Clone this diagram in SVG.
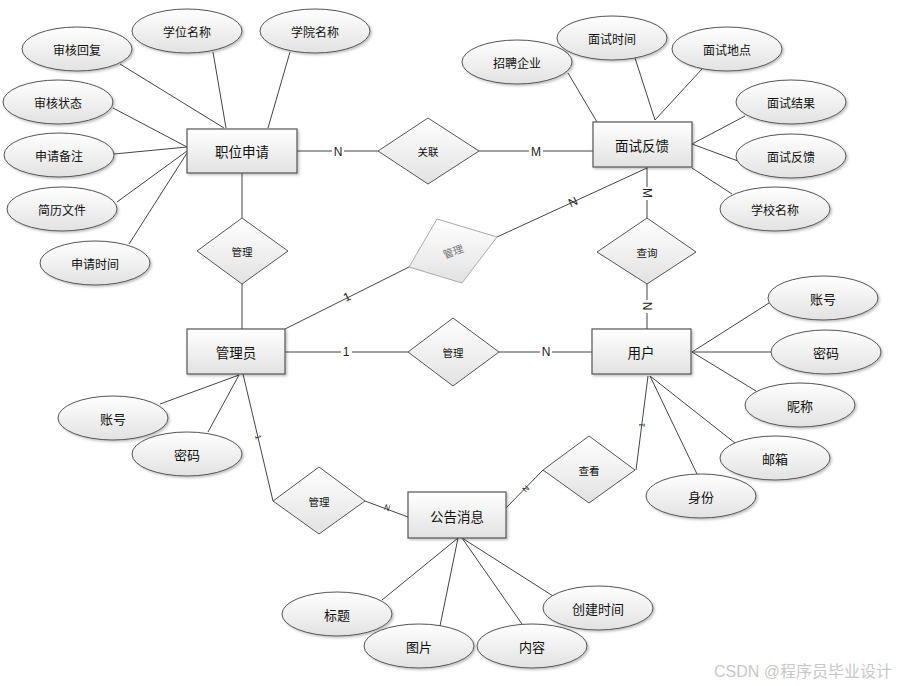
<svg xmlns="http://www.w3.org/2000/svg" width="899" height="686" viewBox="0 0 899 686">
<defs>
<linearGradient id="g" x1="0" y1="0" x2="0" y2="1">
<stop offset="0" stop-color="#ffffff"/>
<stop offset="1" stop-color="#e2e2e2"/>
</linearGradient>
<filter id="sh" x="-10%" y="-10%" width="130%" height="140%">
<feDropShadow dx="1.5" dy="1.5" stdDeviation="1" flood-color="#000" flood-opacity="0.25"/>
</filter>
</defs>
<style>
.ent{fill:url(#g);stroke:#555;stroke-width:1.2;filter:url(#sh)}
.att{fill:url(#g);stroke:#555;stroke-width:1;filter:url(#sh)}
.rel{fill:url(#g);stroke:#555;stroke-width:1}
.rel2{fill:url(#g);stroke:#aaa;stroke-width:1}
.ln{stroke:#444;stroke-width:1;fill:none}
text{font-family:"Noto Sans CJK SC","Microsoft YaHei",sans-serif;fill:#111;text-anchor:middle;dominant-baseline:central}
.te{font-size:13.5px}
.ta{font-size:12px}
.tb{font-size:13px}
.tr{font-size:10.5px}
.card{font-family:"Liberation Sans",Arial,sans-serif;font-size:12px;fill:#222}
.cs{font-family:"Liberation Sans",Arial,sans-serif;font-size:8px;fill:#222}
.wm{font-family:"Liberation Sans","Noto Sans CJK SC",sans-serif;font-size:16px;fill:#c8c8c8;text-anchor:start}
</style>
<rect width="899" height="686" fill="#fff"/>
<g id="connectors">
<line class="ln" x1="120" y1="64" x2="224" y2="128"/>
<line class="ln" x1="213" y1="52" x2="226" y2="128"/>
<line class="ln" x1="290" y1="52" x2="268" y2="128"/>
<line class="ln" x1="113" y1="108" x2="187" y2="147"/>
<line class="ln" x1="114" y1="154" x2="187" y2="147"/>
<line class="ln" x1="117" y1="202" x2="187" y2="151"/>
<line class="ln" x1="129" y1="244" x2="187" y2="153"/>
<line class="ln" x1="297" y1="151" x2="378" y2="151"/>
<line class="ln" x1="479" y1="151" x2="593" y2="151"/>
<line class="ln" x1="242" y1="173" x2="242" y2="218"/>
<line class="ln" x1="242" y1="284" x2="242" y2="329"/>
<line class="ln" x1="568" y1="73" x2="597" y2="122"/>
<line class="ln" x1="635" y1="58" x2="655" y2="120"/>
<line class="ln" x1="702" y1="69" x2="655" y2="120"/>
<line class="ln" x1="745" y1="116" x2="692" y2="144"/>
<line class="ln" x1="738" y1="161" x2="692" y2="144"/>
<line class="ln" x1="732" y1="194" x2="692" y2="168"/>
<line class="ln" x1="647" y1="167" x2="647" y2="218"/>
<line class="ln" x1="497" y1="237" x2="647" y2="168"/>
<line class="ln" x1="285" y1="329" x2="409" y2="267"/>
<line class="ln" x1="285" y1="352" x2="408" y2="352"/>
<line class="ln" x1="499" y1="352" x2="592" y2="352"/>
<line class="ln" x1="647" y1="284" x2="647" y2="329"/>
<line class="ln" x1="769" y1="303" x2="692" y2="352"/>
<line class="ln" x1="771" y1="352" x2="692" y2="352"/>
<line class="ln" x1="756" y1="391" x2="692" y2="352"/>
<line class="ln" x1="735" y1="443" x2="650" y2="376"/>
<line class="ln" x1="697" y1="474" x2="650" y2="376"/>
<line class="ln" x1="648" y1="376" x2="636" y2="470"/>
<line class="ln" x1="160" y1="404" x2="239" y2="375"/>
<line class="ln" x1="208" y1="432" x2="239" y2="375"/>
<line class="ln" x1="243" y1="374" x2="273" y2="501"/>
<line class="ln" x1="365" y1="501" x2="408" y2="517"/>
<line class="ln" x1="506" y1="508" x2="543" y2="470"/>
<line class="ln" x1="382" y1="600" x2="458" y2="538"/>
<line class="ln" x1="440" y1="626" x2="458" y2="538"/>
<line class="ln" x1="522" y1="624" x2="462" y2="538"/>
<line class="ln" x1="553" y1="596" x2="462" y2="538"/>
<g id="cardinalities">
<rect x="332" y="144" width="12" height="14" fill="#fff"/>
<text class="card" x="338" y="152">N</text>
<rect x="529" y="145" width="14" height="14" fill="#fff"/>
<text class="card" x="536" y="152">M</text>
<rect x="640" y="187" width="14" height="13" fill="#fff"/>
<text class="card" x="647" y="193" transform="rotate(90 647 193)">M</text>
<text class="card" x="573" y="202" transform="rotate(-25 573 202)">N</text>
<text class="card" x="347" y="297" transform="rotate(-26 347 297)">1</text>
<rect x="341" y="345" width="11" height="14" fill="#fff"/>
<text class="card" x="346" y="352">1</text>
<rect x="540" y="345" width="12" height="14" fill="#fff"/>
<text class="card" x="546" y="352">N</text>
<rect x="640" y="300" width="14" height="13" fill="#fff"/>
<text class="card" x="647" y="306" transform="rotate(90 647 306)">N</text>
<text class="cs" x="642" y="425" transform="rotate(-83 642 425)">1</text>
<text class="cs" x="258" y="437" transform="rotate(77 258 437)">1</text>
<text class="cs" x="387" y="508" transform="rotate(20 387 508)">N</text>
<text class="cs" x="526" y="489" transform="rotate(-46 526 489)">N</text>
</g>
</g>
<g id="e-zhiwei"><rect class="ent" x="187" y="129" width="110" height="44"/><text class="te" x="242" y="151">职位申请</text></g>
<g id="e-mianshi"><rect class="ent" x="593" y="122" width="99" height="45"/><text class="te" x="642" y="145">面试反馈</text></g>
<g id="e-admin"><rect class="ent" x="187" y="329" width="98" height="45"/><text class="te" x="236" y="352">管理员</text></g>
<g id="e-user"><rect class="ent" x="592" y="329" width="99" height="45"/><text class="te" x="641" y="352">用户</text></g>
<g id="e-notice"><rect class="ent" x="408" y="492" width="98" height="46"/><text class="te" x="457" y="516">公告消息</text></g>
<g id="r-guanlian"><polygon class="rel" points="428,118 479,151 428,184 378,151"/><text class="tr" x="428" y="151">关联</text></g>
<g id="r-guanli1"><polygon class="rel" points="242,218 288,251 242,284 197,251"/><text class="tr" x="242" y="251">管理</text></g>
<g id="r-guanli2"><polygon class="rel2" points="437,219 497,237 462,283 409,267"/><text class="tr" x="453" y="251" fill="#777" style="fill:#777" transform="rotate(-20 453 251)">管理</text></g>
<g id="r-guanli3"><polygon class="rel" points="453,318 499,352 453,386 408,352"/><text class="tr" x="453" y="352">管理</text></g>
<g id="r-chaxun"><polygon class="rel" points="647,218 696,252 647,284 597,252"/><text class="tr" x="647" y="252">查询</text></g>
<g id="r-guanli4"><polygon class="rel" points="319,467 365,501 319,534 273,501"/><text class="tr" x="319" y="501">管理</text></g>
<g id="r-chakan"><polygon class="rel" points="589,436 635,470 589,503 543,470"/><text class="tr" x="589" y="470">查看</text></g>
<g id="a-shenhehuifu"><ellipse class="att" cx="77" cy="49" rx="55" ry="22"/><text class="ta" x="77" y="49">审核回复</text></g>
<g id="a-xuewei"><ellipse class="att" cx="187" cy="31" rx="55" ry="22"/><text class="ta" x="187" y="31">学位名称</text></g>
<g id="a-xueyuan"><ellipse class="att" cx="315" cy="31" rx="55" ry="22"/><text class="ta" x="315" y="31">学院名称</text></g>
<g id="a-shenhezhuangtai"><ellipse class="att" cx="58" cy="102" rx="55" ry="22"/><text class="ta" x="58" y="102">审核状态</text></g>
<g id="a-beizhu"><ellipse class="att" cx="59" cy="155" rx="55" ry="22"/><text class="ta" x="59" y="155">申请备注</text></g>
<g id="a-jianli"><ellipse class="att" cx="62" cy="209" rx="55" ry="22"/><text class="ta" x="62" y="209">简历文件</text></g>
<g id="a-shenqingshijian"><ellipse class="att" cx="95" cy="263" rx="55" ry="22"/><text class="ta" x="95" y="263">申请时间</text></g>
<g id="a-zhaopin"><ellipse class="att" cx="517" cy="62" rx="55" ry="22"/><text class="ta" x="517" y="62">招聘企业</text></g>
<g id="a-mianshishijian"><ellipse class="att" cx="612" cy="38" rx="55" ry="22"/><text class="ta" x="612" y="38">面试时间</text></g>
<g id="a-didian"><ellipse class="att" cx="727" cy="49" rx="55" ry="22"/><text class="ta" x="727" y="49">面试地点</text></g>
<g id="a-jieguo"><ellipse class="att" cx="791" cy="102" rx="55" ry="22"/><text class="ta" x="791" y="102">面试结果</text></g>
<g id="a-fankui"><ellipse class="att" cx="791" cy="156" rx="55" ry="22"/><text class="ta" x="791" y="156">面试反馈</text></g>
<g id="a-xuexiao"><ellipse class="att" cx="775" cy="209" rx="55" ry="22"/><text class="ta" x="775" y="209">学校名称</text></g>
<g id="a-u-zhanghao"><ellipse class="att" cx="823" cy="298" rx="55" ry="22"/><text class="tb" x="823" y="298">账号</text></g>
<g id="a-u-mima"><ellipse class="att" cx="826" cy="352" rx="55" ry="22"/><text class="tb" x="826" y="352">密码</text></g>
<g id="a-nicheng"><ellipse class="att" cx="800" cy="405" rx="55" ry="22"/><text class="tb" x="800" y="405">昵称</text></g>
<g id="a-youxiang"><ellipse class="att" cx="775" cy="458" rx="55" ry="22"/><text class="tb" x="775" y="458">邮箱</text></g>
<g id="a-shenfen"><ellipse class="att" cx="701" cy="496" rx="55" ry="22"/><text class="tb" x="701" y="496">身份</text></g>
<g id="a-a-zhanghao"><ellipse class="att" cx="113" cy="418" rx="55" ry="22"/><text class="tb" x="113" y="418">账号</text></g>
<g id="a-a-mima"><ellipse class="att" cx="187" cy="454" rx="55" ry="22"/><text class="tb" x="187" y="454">密码</text></g>
<g id="a-biaoti"><ellipse class="att" cx="337" cy="614" rx="55" ry="22"/><text class="tb" x="337" y="614">标题</text></g>
<g id="a-tupian"><ellipse class="att" cx="419" cy="646" rx="55" ry="22"/><text class="tb" x="419" y="646">图片</text></g>
<g id="a-neirong"><ellipse class="att" cx="532" cy="646" rx="55" ry="22"/><text class="tb" x="532" y="646">内容</text></g>
<g id="a-chuangjian"><ellipse class="att" cx="598" cy="608" rx="55" ry="22"/><text class="tb" x="598" y="608">创建时间</text></g>
<text class="wm" x="714" y="677" style="dominant-baseline:auto">CSDN @程序员毕业设计</text>
</svg>
